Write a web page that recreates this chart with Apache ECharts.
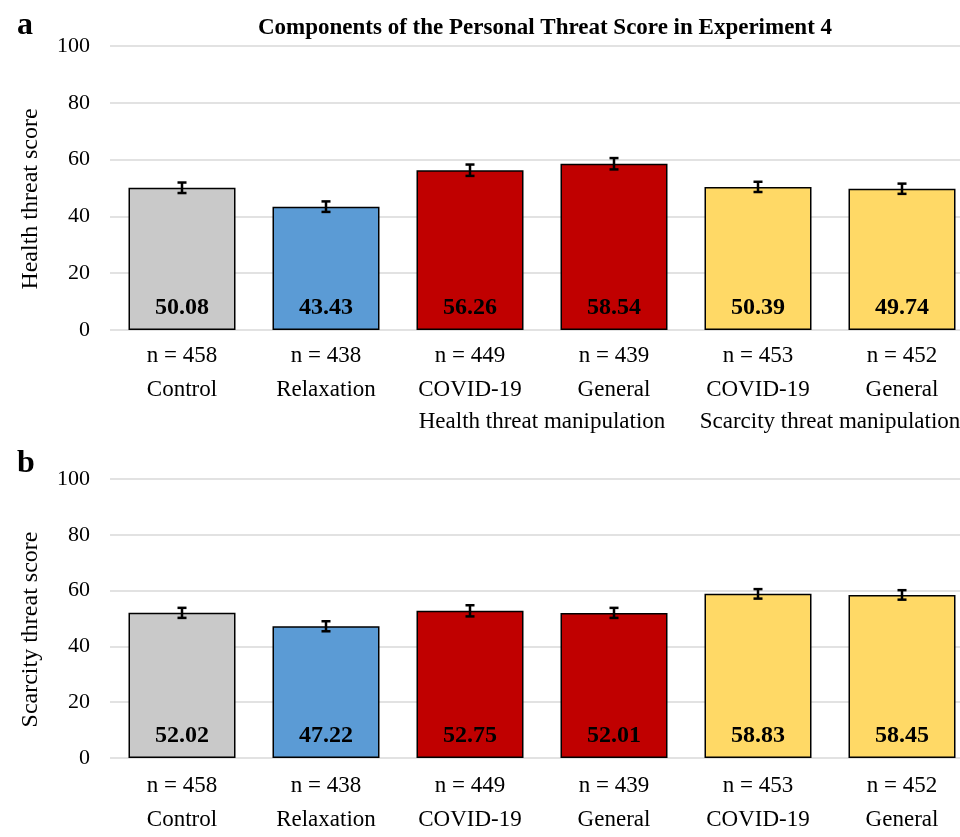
<!DOCTYPE html>
<html>
<head>
<meta charset="utf-8">
<script src="https://cdn.jsdelivr.net/npm/echarts@6/dist/echarts.min.js"></script>
<style>
  html, body { margin: 0; padding: 0; background: #fff; overflow: hidden; }
  /* the original figure is cropped on the right, so the canvas is a bit wider than the window */
  #chart { width: 990px; height: 837px; }
</style>
</head>
<body>
<div id="chart"></div>
<script>
// condition names and group sizes
var categories = ["Control", "Relaxation", "COVID-19", "General", "COVID-19", "General"];
var nCounts = [458, 438, 449, 439, 453, 452];
var groupNames = ["", "Health threat manipulation", "Scarcity threat manipulation"];

// panel a: health threat score
var healthMeans = [50.08, 43.43, 56.26, 58.54, 50.39, 49.74];
var healthErr = [1.85, 1.85, 2.0, 2.0, 1.8, 1.8];

// panel b: scarcity threat score
var scarcityMeans = [52.02, 47.22, 52.75, 52.01, 58.83, 58.45];
var scarcityErr = [1.8, 1.8, 2.0, 1.8, 1.7, 1.7];

var yTicks = [0, 20, 40, 60, 80, 100];

var barColors = ["#C9C9C9", "#5B9BD5", "#C00000", "#C00000", "#FFD966", "#FFD966"];
var serif = "'Liberation Serif', 'DejaVu Serif', serif";

var xLabels = categories.map(function (c, i) {
  return "n = " + nCounts[i] + "\n" + c;
});

var myChart = echarts.init(document.getElementById("chart"));

function barData(means) {
  return means.map(function (v, i) {
    return { value: v, itemStyle: { color: barColors[i] } };
  });
}

function errData(means, errs) {
  return means.map(function (v, i) {
    return [i, v - errs[i], v + errs[i]];
  });
}

function renderError(params, api) {
  var x = api.value(0);
  var lo = api.coord([x, api.value(1)]);
  var hi = api.coord([x, api.value(2)]);
  var cap = 4.5;
  var style = { stroke: "#000", lineWidth: 2.5 };
  return {
    type: "group",
    children: [
      { type: "line", shape: { x1: lo[0], y1: lo[1], x2: hi[0], y2: hi[1] }, style: style },
      { type: "line", shape: { x1: lo[0] - cap, y1: lo[1], x2: lo[0] + cap, y2: lo[1] }, style: style },
      { type: "line", shape: { x1: hi[0] - cap, y1: hi[1], x2: hi[0] + cap, y2: hi[1] }, style: style }
    ]
  };
}

function yAxis(gridIndex, name) {
  return {
    type: "value",
    gridIndex: gridIndex,
    min: yTicks[0],
    max: yTicks[yTicks.length - 1],
    interval: 20,
    name: name,
    nameLocation: "middle",
    nameGap: 67,
    nameTextStyle: { fontFamily: serif, fontSize: 24, color: "#000", padding: [0, 22, 0, 0] },
    axisLine: { show: false },
    axisTick: { show: false },
    axisLabel: { fontFamily: serif, fontSize: 22, color: "#000", margin: 20 },
    splitLine: { lineStyle: { color: "#D9D9D9", width: 1.5 } }
  };
}

function xAxis(gridIndex, margin) {
  return {
    type: "category",
    gridIndex: gridIndex,
    data: xLabels,
    axisLine: { show: false },
    axisTick: { show: false },
    axisLabel: {
      fontFamily: serif, fontSize: 23, color: "#000",
      lineHeight: 34, margin: margin, interval: 0
    }
  };
}

function groupAxis(gridIndex) {
  return {
    type: "category",
    gridIndex: gridIndex,
    data: groupNames,
    position: "bottom",
    offset: 75,
    axisLine: { show: false },
    axisTick: { show: false },
    splitLine: { show: false },
    axisLabel: { fontFamily: serif, fontSize: 23, color: "#000", lineHeight: 34, margin: 0, interval: 0 }
  };
}

function barSeries(idx, means) {
  return {
    type: "bar",
    xAxisIndex: idx,
    yAxisIndex: idx,
    data: barData(means),
    barWidth: 107,
    itemStyle: { borderColor: "#000", borderWidth: 1.5 },
    label: {
      show: true,
      position: "insideBottom",
      distance: 10,
      formatter: function (p) { return p.value.toFixed(2); },
      fontFamily: serif, fontSize: 24, fontWeight: "bold", color: "#000"
    },
    silent: true
  };
}

function errSeries(idx, means, errs) {
  return {
    type: "custom",
    xAxisIndex: idx,
    yAxisIndex: idx,
    data: errData(means, errs),
    renderItem: renderError,
    z: 5,
    silent: true
  };
}

myChart.setOption({
  animation: false,
  title: [
    {
      text: "Components of the Personal Threat Score in Experiment 4",
      left: 540, top: 12, textAlign: "center",
      textStyle: { fontFamily: serif, fontSize: 23, fontWeight: "bold", color: "#000" }
    },
    {
      text: "a", left: 12, top: 5,
      textStyle: { fontFamily: serif, fontSize: 32, fontWeight: "bold", color: "#000" }
    },
    {
      text: "b", left: 12, top: 443,
      textStyle: { fontFamily: serif, fontSize: 32, fontWeight: "bold", color: "#000" }
    }
  ],
  grid: [
    { left: 110, top: 46, width: 864, height: 284 },
    { left: 110, top: 479, width: 864, height: 283 }
  ],
  xAxis: [xAxis(0, 9), xAxis(1, 11), groupAxis(0)],
  yAxis: [yAxis(0, "Health threat score"), yAxis(1, "Scarcity threat score")],
  series: [
    barSeries(0, healthMeans),
    errSeries(0, healthMeans, healthErr),
    barSeries(1, scarcityMeans),
    errSeries(1, scarcityMeans, scarcityErr)
  ]
});
</script>
</body>
</html>
